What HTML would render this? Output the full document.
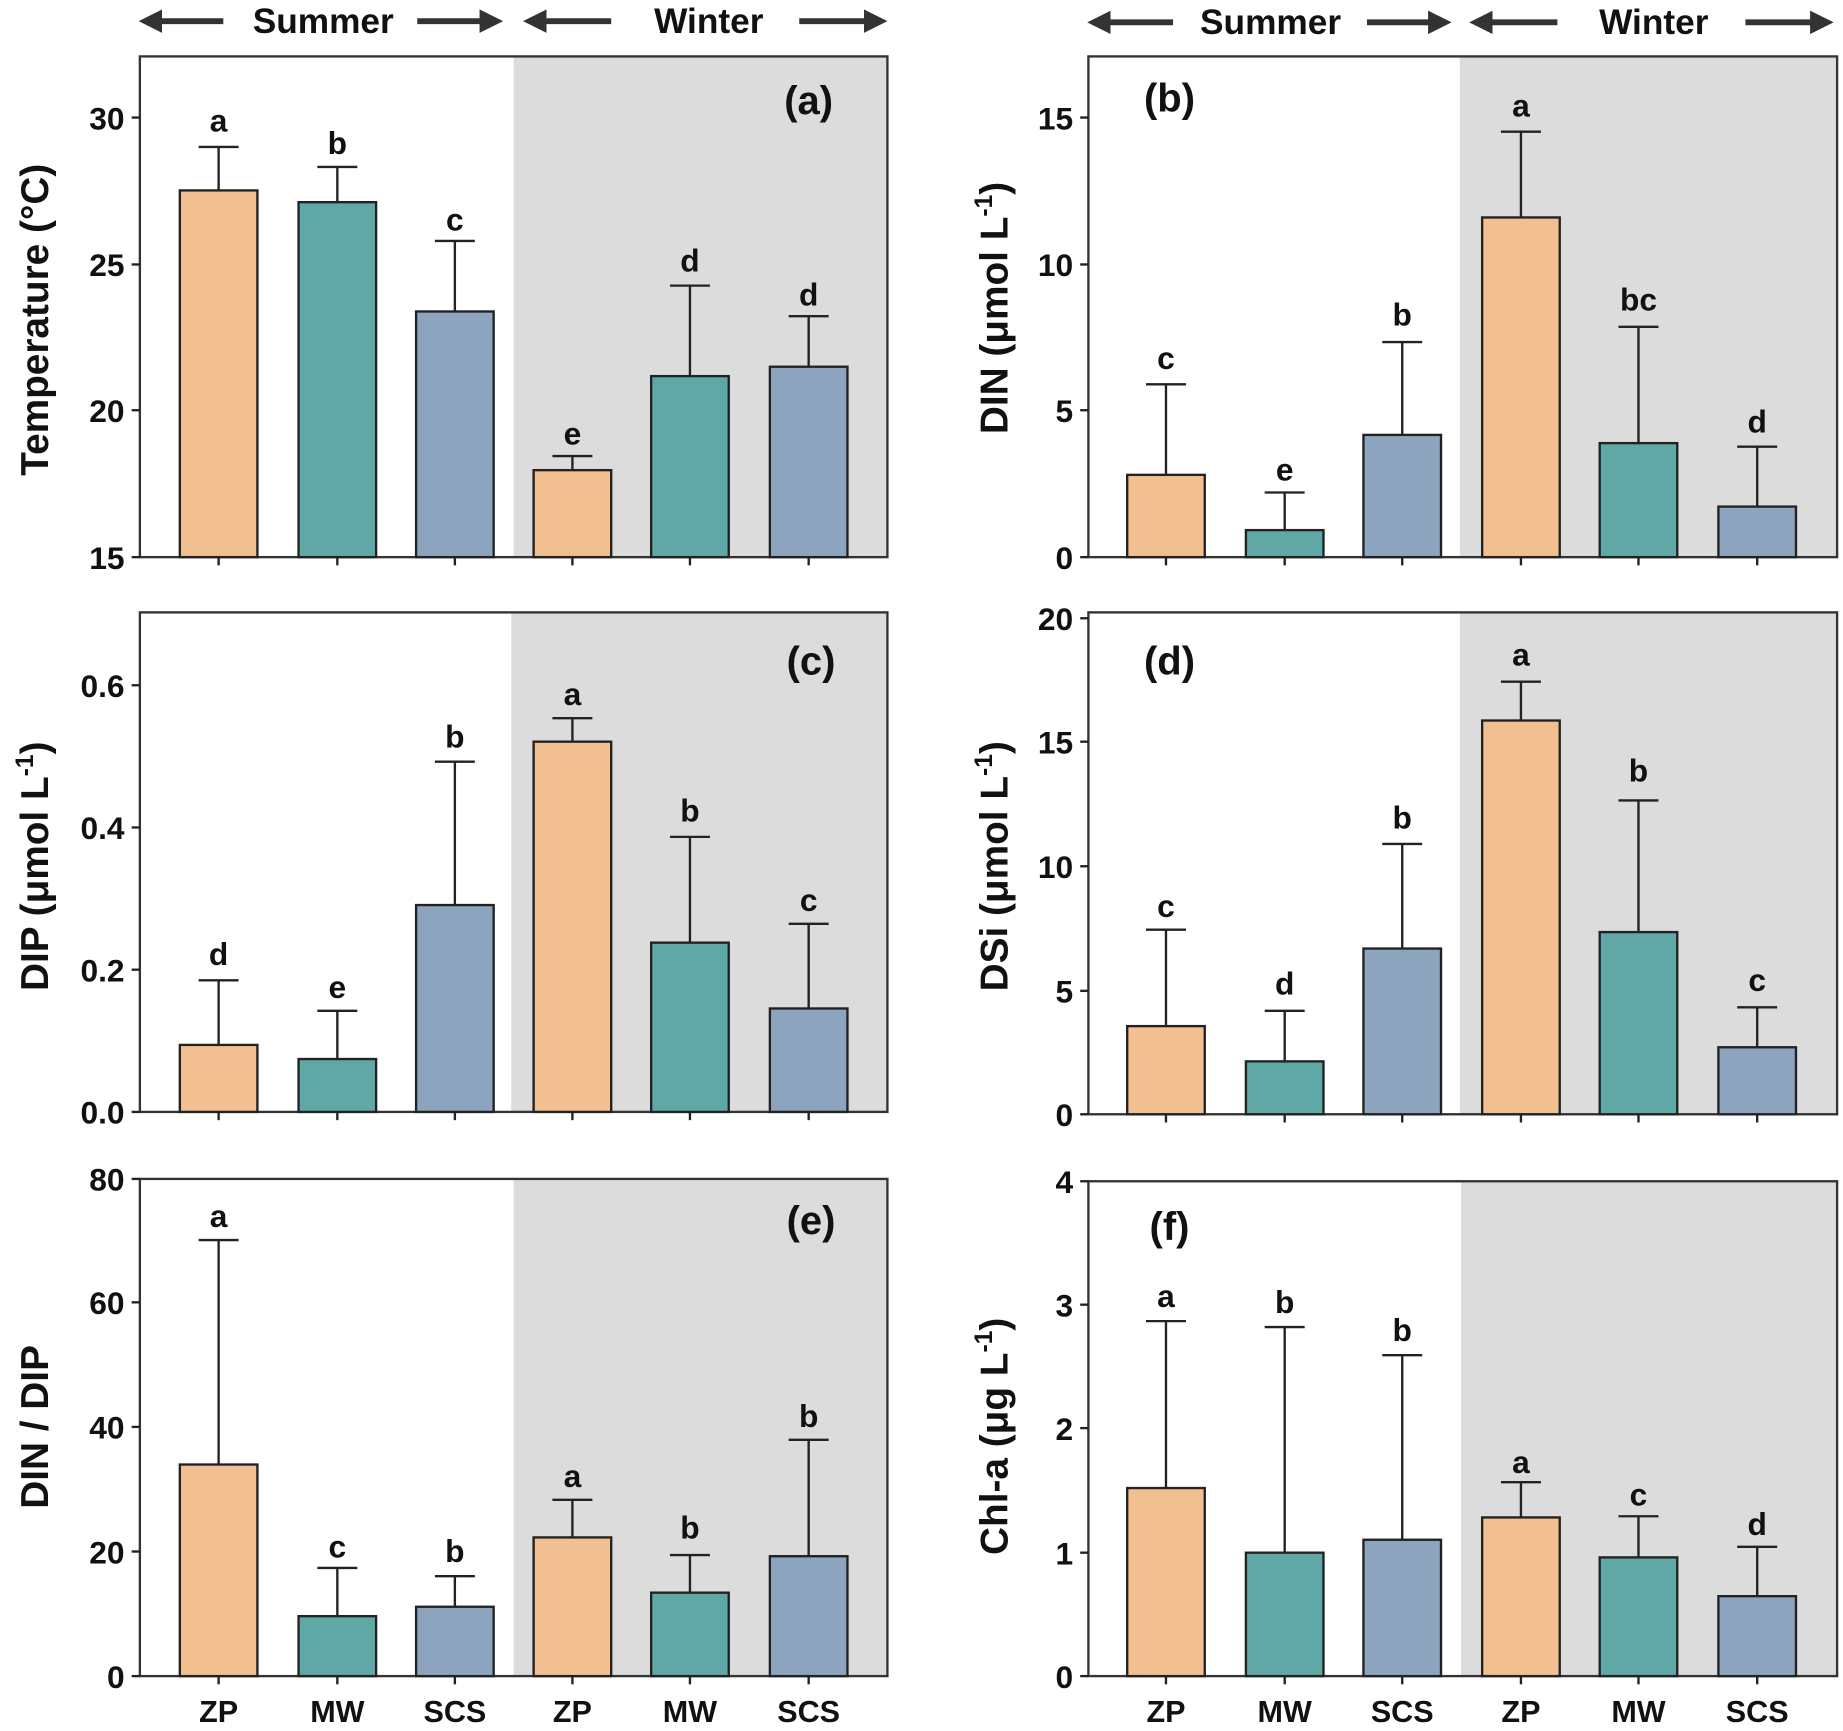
<!DOCTYPE html>
<html><head><meta charset="utf-8"><style>
html,body{margin:0;padding:0;background:#fff;}
svg{display:block;}
text{font-family:"Liberation Sans",Arial,sans-serif;font-weight:bold;fill:#111;}
.t{font-size:27px;text-anchor:end;}
.l{font-size:27px;text-anchor:middle;}
.x{font-size:26px;text-anchor:middle;}
.p{font-size:34px;text-anchor:middle;}
.h{font-size:30px;text-anchor:middle;}
.y{font-size:33px;text-anchor:middle;}
.o{fill:#F2BF90;stroke:#222;stroke-width:2;}
.g{fill:#5FA8A6;stroke:#222;stroke-width:2;}
.b{fill:#8DA4BF;stroke:#222;stroke-width:2;}
.e{stroke:#222;stroke-width:2;fill:none;}
.f{fill:none;stroke:#333;stroke-width:2;}
.s{fill:#dcdcdc;}
.a{stroke:#333;stroke-width:5;fill:none;}
</style></head><body>
<svg width="1843" height="1731" viewBox="0 0 1568 1472.7" xmlns="http://www.w3.org/2000/svg">
<defs><marker id="ah" markerWidth="4" markerHeight="4" refX="2" refY="2" orient="auto"><path d="M0,0 L4,2 L0,4 Z" fill="#333"/></marker></defs>
<line class="a" x1="190" y1="18" x2="128" y2="18" marker-end="url(#ah)"/>
<text class="h" x="275" y="28">Summer</text>
<line class="a" x1="355" y1="18" x2="418" y2="18" marker-end="url(#ah)"/>
<line class="a" x1="520" y1="18" x2="455" y2="18" marker-end="url(#ah)"/>
<text class="h" x="603" y="28">Winter</text>
<line class="a" x1="680" y1="18" x2="745" y2="18" marker-end="url(#ah)"/>
<line class="a" x1="998" y1="19" x2="935" y2="19" marker-end="url(#ah)"/>
<text class="h" x="1081" y="29">Summer</text>
<line class="a" x1="1163" y1="19" x2="1225" y2="19" marker-end="url(#ah)"/>
<line class="a" x1="1325" y1="19" x2="1260" y2="19" marker-end="url(#ah)"/>
<text class="h" x="1407" y="29">Winter</text>
<line class="a" x1="1485" y1="19" x2="1550" y2="19" marker-end="url(#ah)"/>

<!-- Panel a -->
<rect class="s" x="437" y="48" width="318" height="426"/>
<rect class="f" x="119" y="48" width="636" height="426"/>
<g class="e"><line x1="112" y1="100" x2="119" y2="100"/><line x1="112" y1="225" x2="119" y2="225"/><line x1="112" y1="349" x2="119" y2="349"/><line x1="112" y1="474" x2="119" y2="474"/>
<line x1="186" y1="474" x2="186" y2="481"/><line x1="287" y1="474" x2="287" y2="481"/><line x1="387" y1="474" x2="387" y2="481"/><line x1="487" y1="474" x2="487" y2="481"/><line x1="587" y1="474" x2="587" y2="481"/><line x1="688" y1="474" x2="688" y2="481"/></g>
<text class="t" x="106" y="110">30</text><text class="t" x="106" y="235">25</text><text class="t" x="106" y="359">20</text><text class="t" x="106" y="484">15</text>
<text class="y" transform="translate(41,272) rotate(-90)">Temperature (°C)</text>
<text class="p" x="688" y="97">(a)</text>
<rect class="o" x="153" y="162" width="66" height="312"/><path class="e" d="M186,162V125M169,125H203"/><text class="l" x="186" y="112">a</text>
<rect class="g" x="254" y="172" width="66" height="302"/><path class="e" d="M287,172V142M270,142H304"/><text class="l" x="287" y="131">b</text>
<rect class="b" x="354" y="265" width="66" height="209"/><path class="e" d="M387,265V205M370,205H404"/><text class="l" x="387" y="196">c</text>
<rect class="o" x="454" y="400" width="66" height="74"/><path class="e" d="M487,400V388M470,388H504"/><text class="l" x="487" y="378">e</text>
<rect class="g" x="554" y="320" width="66" height="154"/><path class="e" d="M587,320V243M570,243H604"/><text class="l" x="587" y="231">d</text>
<rect class="b" x="655" y="312" width="66" height="162"/><path class="e" d="M688,312V269M671,269H705"/><text class="l" x="688" y="260">d</text>

<!-- Panel b -->
<rect class="s" x="1242" y="48" width="321" height="426"/>
<rect class="f" x="926" y="48" width="637" height="426"/>
<g class="e"><line x1="919" y1="100" x2="926" y2="100"/><line x1="919" y1="225" x2="926" y2="225"/><line x1="919" y1="349" x2="926" y2="349"/><line x1="919" y1="474" x2="926" y2="474"/>
<line x1="992" y1="474" x2="992" y2="481"/><line x1="1093" y1="474" x2="1093" y2="481"/><line x1="1193" y1="474" x2="1193" y2="481"/><line x1="1294" y1="474" x2="1294" y2="481"/><line x1="1394" y1="474" x2="1394" y2="481"/><line x1="1495" y1="474" x2="1495" y2="481"/></g>
<text class="t" x="913" y="110">15</text><text class="t" x="913" y="235">10</text><text class="t" x="913" y="359">5</text><text class="t" x="913" y="484">0</text>
<text class="y" transform="translate(857,262) rotate(-90)">DIN (μmol L<tspan dy="-13" font-size="21">-1</tspan><tspan dy="13">)</tspan></text>
<text class="p" x="995" y="95">(b)</text>
<rect class="o" x="959" y="404" width="66" height="70"/><path class="e" d="M992,404V327M975,327H1009"/><text class="l" x="992" y="314">c</text>
<rect class="g" x="1060" y="451" width="66" height="23"/><path class="e" d="M1093,451V419M1076,419H1110"/><text class="l" x="1093" y="409">e</text>
<rect class="b" x="1160" y="370" width="66" height="104"/><path class="e" d="M1193,370V291M1176,291H1210"/><text class="l" x="1193" y="277">b</text>
<rect class="o" x="1261" y="185" width="66" height="289"/><path class="e" d="M1294,185V112M1277,112H1311"/><text class="l" x="1294" y="99">a</text>
<rect class="g" x="1361" y="377" width="66" height="97"/><path class="e" d="M1394,377V278M1377,278H1411"/><text class="l" x="1394" y="264">bc</text>
<rect class="b" x="1462" y="431" width="66" height="43"/><path class="e" d="M1495,431V380M1478,380H1512"/><text class="l" x="1495" y="368">d</text>

<!-- Panel c -->
<rect class="s" x="435" y="521" width="320" height="425"/>
<rect class="f" x="119" y="521" width="636" height="425"/>
<g class="e"><line x1="112" y1="583" x2="119" y2="583"/><line x1="112" y1="704" x2="119" y2="704"/><line x1="112" y1="825" x2="119" y2="825"/><line x1="112" y1="946" x2="119" y2="946"/>
<line x1="186" y1="946" x2="186" y2="953"/><line x1="287" y1="946" x2="287" y2="953"/><line x1="387" y1="946" x2="387" y2="953"/><line x1="487" y1="946" x2="487" y2="953"/><line x1="587" y1="946" x2="587" y2="953"/><line x1="688" y1="946" x2="688" y2="953"/></g>
<text class="t" x="106" y="593">0.6</text><text class="t" x="106" y="714">0.4</text><text class="t" x="106" y="835">0.2</text><text class="t" x="106" y="956">0.0</text>
<text class="y" transform="translate(41,737) rotate(-90)">DIP (μmol L<tspan dy="-13" font-size="21">-1</tspan><tspan dy="13">)</tspan></text>
<text class="p" x="690" y="574">(c)</text>
<rect class="o" x="153" y="889" width="66" height="57"/><path class="e" d="M186,889V834M169,834H203"/><text class="l" x="186" y="821">d</text>
<rect class="g" x="254" y="901" width="66" height="45"/><path class="e" d="M287,901V860M270,860H304"/><text class="l" x="287" y="849">e</text>
<rect class="b" x="354" y="770" width="66" height="176"/><path class="e" d="M387,770V648M370,648H404"/><text class="l" x="387" y="636">b</text>
<rect class="o" x="454" y="631" width="66" height="315"/><path class="e" d="M487,631V611M470,611H504"/><text class="l" x="487" y="600">a</text>
<rect class="g" x="554" y="802" width="66" height="144"/><path class="e" d="M587,802V712M570,712H604"/><text class="l" x="587" y="699">b</text>
<rect class="b" x="655" y="858" width="66" height="88"/><path class="e" d="M688,858V786M671,786H705"/><text class="l" x="688" y="775">c</text>

<!-- Panel d -->
<rect class="s" x="1242" y="521" width="321" height="427"/>
<rect class="f" x="926" y="521" width="637" height="427"/>
<g class="e"><line x1="919" y1="526" x2="926" y2="526"/><line x1="919" y1="631" x2="926" y2="631"/><line x1="919" y1="737" x2="926" y2="737"/><line x1="919" y1="843" x2="926" y2="843"/><line x1="919" y1="948" x2="926" y2="948"/>
<line x1="992" y1="948" x2="992" y2="955"/><line x1="1093" y1="948" x2="1093" y2="955"/><line x1="1193" y1="948" x2="1193" y2="955"/><line x1="1294" y1="948" x2="1294" y2="955"/><line x1="1394" y1="948" x2="1394" y2="955"/><line x1="1495" y1="948" x2="1495" y2="955"/></g>
<text class="t" x="913" y="536">20</text><text class="t" x="913" y="641">15</text><text class="t" x="913" y="747">10</text><text class="t" x="913" y="853">5</text><text class="t" x="913" y="958">0</text>
<text class="y" transform="translate(857,737) rotate(-90)">DSi (μmol L<tspan dy="-13" font-size="21">-1</tspan><tspan dy="13">)</tspan></text>
<text class="p" x="995" y="574">(d)</text>
<rect class="o" x="959" y="873" width="66" height="75"/><path class="e" d="M992,873V791M975,791H1009"/><text class="l" x="992" y="780">c</text>
<rect class="g" x="1060" y="903" width="66" height="45"/><path class="e" d="M1093,903V860M1076,860H1110"/><text class="l" x="1093" y="846">d</text>
<rect class="b" x="1160" y="807" width="66" height="141"/><path class="e" d="M1193,807V718M1176,718H1210"/><text class="l" x="1193" y="705">b</text>
<rect class="o" x="1261" y="613" width="66" height="335"/><path class="e" d="M1294,613V580M1277,580H1311"/><text class="l" x="1294" y="566">a</text>
<rect class="g" x="1361" y="793" width="66" height="155"/><path class="e" d="M1394,793V681M1377,681H1411"/><text class="l" x="1394" y="665">b</text>
<rect class="b" x="1462" y="891" width="66" height="57"/><path class="e" d="M1495,891V857M1478,857H1512"/><text class="l" x="1495" y="843">c</text>

<!-- Panel e -->
<rect class="s" x="437" y="1003" width="318" height="423"/>
<rect class="f" x="119" y="1003" width="636" height="423"/>
<g class="e"><line x1="112" y1="1003" x2="119" y2="1003"/><line x1="112" y1="1108" x2="119" y2="1108"/><line x1="112" y1="1214" x2="119" y2="1214"/><line x1="112" y1="1320" x2="119" y2="1320"/><line x1="112" y1="1426" x2="119" y2="1426"/>
<line x1="186" y1="1426" x2="186" y2="1433"/><line x1="287" y1="1426" x2="287" y2="1433"/><line x1="387" y1="1426" x2="387" y2="1433"/><line x1="487" y1="1426" x2="487" y2="1433"/><line x1="587" y1="1426" x2="587" y2="1433"/><line x1="688" y1="1426" x2="688" y2="1433"/></g>
<text class="t" x="106" y="1013">80</text><text class="t" x="106" y="1118">60</text><text class="t" x="106" y="1224">40</text><text class="t" x="106" y="1330">20</text><text class="t" x="106" y="1436">0</text>
<text class="y" transform="translate(41,1214) rotate(-90)">DIN / DIP</text>
<text class="p" x="690" y="1050">(e)</text>
<rect class="o" x="153" y="1246" width="66" height="180"/><path class="e" d="M186,1246V1055M169,1055H203"/><text class="l" x="186" y="1044">a</text>
<rect class="g" x="254" y="1375" width="66" height="51"/><path class="e" d="M287,1375V1334M270,1334H304"/><text class="l" x="287" y="1325">c</text>
<rect class="b" x="354" y="1367" width="66" height="59"/><path class="e" d="M387,1367V1341M370,1341H404"/><text class="l" x="387" y="1329">b</text>
<rect class="o" x="454" y="1308" width="66" height="118"/><path class="e" d="M487,1308V1276M470,1276H504"/><text class="l" x="487" y="1265">a</text>
<rect class="g" x="554" y="1355" width="66" height="71"/><path class="e" d="M587,1355V1323M570,1323H604"/><text class="l" x="587" y="1309">b</text>
<rect class="b" x="655" y="1324" width="66" height="102"/><path class="e" d="M688,1324V1225M671,1225H705"/><text class="l" x="688" y="1214">b</text>
<text class="x" x="186" y="1465">ZP</text><text class="x" x="287" y="1465">MW</text><text class="x" x="387" y="1465">SCS</text><text class="x" x="487" y="1465">ZP</text><text class="x" x="587" y="1465">MW</text><text class="x" x="688" y="1465">SCS</text>

<!-- Panel f -->
<rect class="s" x="1243" y="1005" width="320" height="421"/>
<rect class="f" x="926" y="1005" width="637" height="421"/>
<g class="e"><line x1="919" y1="1005" x2="926" y2="1005"/><line x1="919" y1="1110" x2="926" y2="1110"/><line x1="919" y1="1215" x2="926" y2="1215"/><line x1="919" y1="1321" x2="926" y2="1321"/><line x1="919" y1="1426" x2="926" y2="1426"/>
<line x1="992" y1="1426" x2="992" y2="1433"/><line x1="1093" y1="1426" x2="1093" y2="1433"/><line x1="1193" y1="1426" x2="1193" y2="1433"/><line x1="1294" y1="1426" x2="1294" y2="1433"/><line x1="1394" y1="1426" x2="1394" y2="1433"/><line x1="1495" y1="1426" x2="1495" y2="1433"/></g>
<text class="t" x="913" y="1015">4</text><text class="t" x="913" y="1120">3</text><text class="t" x="913" y="1225">2</text><text class="t" x="913" y="1331">1</text><text class="t" x="913" y="1436">0</text>
<text class="y" transform="translate(857,1222) rotate(-90)">Chl-a (μg L<tspan dy="-13" font-size="21">-1</tspan><tspan dy="13">)</tspan></text>
<text class="p" x="995" y="1055">(f)</text>
<rect class="o" x="959" y="1266" width="66" height="160"/><path class="e" d="M992,1266V1124M975,1124H1009"/><text class="l" x="992" y="1112">a</text>
<rect class="g" x="1060" y="1321" width="66" height="105"/><path class="e" d="M1093,1321V1129M1076,1129H1110"/><text class="l" x="1093" y="1117">b</text>
<rect class="b" x="1160" y="1310" width="66" height="116"/><path class="e" d="M1193,1310V1153M1176,1153H1210"/><text class="l" x="1193" y="1141">b</text>
<rect class="o" x="1261" y="1291" width="66" height="135"/><path class="e" d="M1294,1291V1261M1277,1261H1311"/><text class="l" x="1294" y="1253">a</text>
<rect class="g" x="1361" y="1325" width="66" height="101"/><path class="e" d="M1394,1325V1290M1377,1290H1411"/><text class="l" x="1394" y="1281">c</text>
<rect class="b" x="1462" y="1358" width="66" height="68"/><path class="e" d="M1495,1358V1316M1478,1316H1512"/><text class="l" x="1495" y="1306">d</text>
<text class="x" x="992" y="1465">ZP</text><text class="x" x="1093" y="1465">MW</text><text class="x" x="1193" y="1465">SCS</text><text class="x" x="1294" y="1465">ZP</text><text class="x" x="1394" y="1465">MW</text><text class="x" x="1495" y="1465">SCS</text>
</svg>
</body></html>
